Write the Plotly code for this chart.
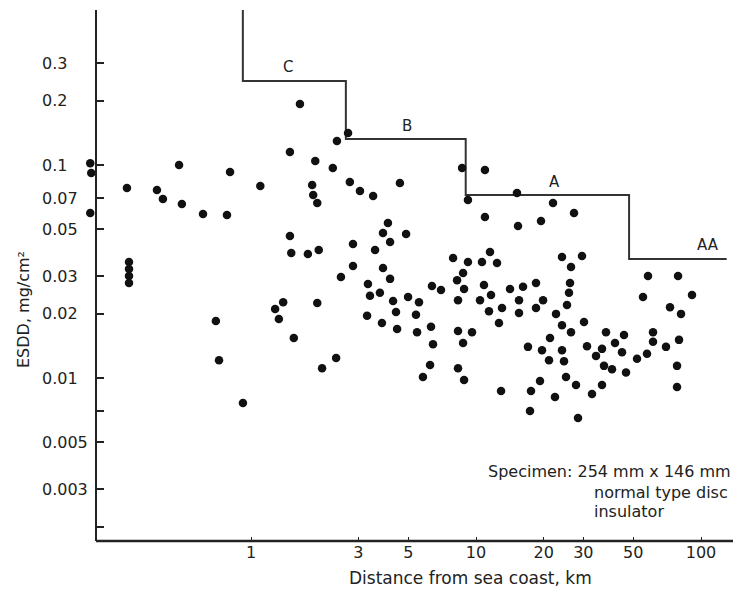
import numpy as np
import plotly.graph_objects as go

# measured ESDD vs distance from the sea coast
distance_km = [
    0.193, 0.195, 0.193, 0.281, 0.287, 0.287, 0.287, 0.287, 0.382, 0.406,
    0.479, 0.493, 0.612, 0.698, 0.721, 0.782, 0.807, 0.921, 1.10, 1.49,
    1.65, 1.49, 1.51, 1.39, 1.28, 1.33, 1.55, 1.79, 2.00, 1.97,
    1.93, 2.31, 2.41, 2.70, 1.87, 1.89, 1.97, 2.75, 3.05, 3.49,
    4.59, 4.06, 3.86, 4.15, 4.89, 2.84, 3.56, 2.84, 2.51, 3.86,
    4.15, 3.31, 3.38, 3.74, 4.28, 4.99, 5.58, 4.41, 3.28, 5.41,
    3.82, 4.46, 5.47, 6.31, 6.44, 2.39, 2.07, 6.25, 5.81, 8.67,
    10.96, 9.21, 10.96, 7.91, 9.21, 10.63, 11.54, 12.40, 8.76, 8.24,
    6.37, 6.99, 8.85, 10.85, 11.66, 10.42, 8.32, 14.16, 16.18, 18.48,
    15.53, 18.48, 15.53, 11.42, 13.05, 12.65, 8.32, 9.60, 8.76, 8.32,
    8.85, 15.21, 21.99, 15.37, 19.45, 27.27, 24.11, 29.59, 26.44, 58.14,
    79.05, 26.17, 25.90, 19.86, 25.38, 22.68, 24.11, 26.44, 30.20, 55.24,
    91.20, 72.81, 81.51, 37.82, 45.48, 61.19, 61.19, 79.86, 41.48, 44.56,
    17.02, 19.65, 21.33, 24.11, 21.11, 24.61, 31.14, 36.31, 34.15, 51.95,
    57.54, 69.89, 37.06, 40.22, 46.42, 78.24, 25.12, 27.83, 19.25, 17.56,
    12.92, 22.44, 32.78, 36.31, 78.24, 17.38, 28.40,
]
esdd = [
    0.102, 0.0917, 0.0595, 0.078, 0.035, 0.0325, 0.0301, 0.0279, 0.0763, 0.0692,
    0.100, 0.0656, 0.0589, 0.0185, 0.0121, 0.0582, 0.0927, 0.00763, 0.0797, 0.1151,
    0.1933, 0.0464, 0.0386, 0.0227, 0.0211, 0.0189, 0.0154, 0.0382, 0.0399, 0.0225,
    0.1044, 0.0968, 0.1296, 0.1413, 0.0806, 0.0723, 0.0663, 0.0832, 0.0755, 0.0715,
    0.0823, 0.0534, 0.0480, 0.0435, 0.0474, 0.0426, 0.0399, 0.0336, 0.0298, 0.0328,
    0.0292, 0.0276, 0.0243, 0.0251, 0.0230, 0.0240, 0.0227, 0.0204, 0.0196, 0.0198,
    0.0181, 0.0170, 0.0164, 0.0174, 0.0144, 0.0124, 0.0111, 0.0115, 0.0101, 0.0968,
    0.0947, 0.0685, 0.0570, 0.0366, 0.0350, 0.0350, 0.0390, 0.0347, 0.0311, 0.0288,
    0.0270, 0.0259, 0.0262, 0.0273, 0.0245, 0.0232, 0.0232, 0.0262, 0.0268, 0.0279,
    0.0232, 0.0213, 0.0202, 0.0206, 0.0213, 0.0181, 0.0166, 0.0164, 0.0146, 0.0111,
    0.00979, 0.0739, 0.0663, 0.0517, 0.0546, 0.0595, 0.0370, 0.0374, 0.0332, 0.0301,
    0.0301, 0.0279, 0.0251, 0.0232, 0.0220, 0.0200, 0.0177, 0.0164, 0.0183, 0.0240,
    0.0245, 0.0215, 0.0200, 0.0164, 0.0159, 0.0164, 0.0148, 0.0151, 0.0146, 0.0132,
    0.0140, 0.0135, 0.0154, 0.0135, 0.0121, 0.0120, 0.0141, 0.0137, 0.0127, 0.0123,
    0.0130, 0.0140, 0.0114, 0.0110, 0.0106, 0.0114, 0.0101, 0.00927, 0.00968, 0.00869,
    0.00869, 0.00814, 0.00841, 0.00927, 0.00907, 0.00700, 0.00649,
]

# pollution class boundaries (step line)
class_x = [0.92, 0.92, 2.64, 9.0, 47.9, 130]
class_y = [0.6, 0.248, 0.1325, 0.0723, 0.0362, 0.0362]
class_names = ['C', 'B', 'A', 'AA']
class_label_x = [1.46, 4.93, 22.4, 107.5]
class_label_y = [0.288, 0.152, 0.0832, 0.0421]

x_ticks = [1, 3, 5, 10, 20, 30, 50, 100]
y_ticks = [0.3, 0.2, 0.1, 0.07, 0.05, 0.03, 0.02, 0.01, 0.007, 0.005, 0.003, 0.002]
y_tick_text = ['0.3', '0.2', '0.1', '0.07', '0.05', '0.03', '0.02', '0.01', '', '0.005', '0.003', '']

FONT = 'DejaVu Sans'
INK = '#222222'
Y_AXIS_POS = 0.0123  # y axis sits a little inside the plot area

fig = go.Figure()

fig.add_trace(go.Scatter(
    x=class_x, y=class_y,
    mode='lines', line=dict(color='#333333', width=2, shape='hv'),
    showlegend=False, hoverinfo='skip',
))

fig.add_trace(go.Scatter(
    x=distance_km, y=esdd,
    mode='markers', marker=dict(color='#111111', size=8.5),
    cliponaxis=False, showlegend=False,
))

for name, lx, ly in zip(class_names, class_label_x, class_label_y):
    fig.add_annotation(x=np.log10(lx), y=np.log10(ly), text=name, showarrow=False,
                       font=dict(family=FONT, size=15, color=INK))

# left-align the y tick labels with figure spaces, as in the original
padded = [t.ljust(5, '\u2007') if t else '' for t in y_tick_text]

fig.update_layout(
    width=741, height=604,
    margin=dict(l=80, r=11, t=2, b=71),
    paper_bgcolor='white', plot_bgcolor='white',
    font=dict(family=FONT, size=16, color=INK),
    xaxis=dict(
        type='log', range=[-0.7244, 2.1644],
        tickvals=x_ticks, ticktext=[str(v) for v in x_ticks],
        ticks='inside', ticklen=4, tickcolor=INK,
        showline=False, showgrid=False, zeroline=False,
    ),
    yaxis=dict(
        type='log', range=[-2.7653, -0.2723],
        anchor='free', position=Y_AXIS_POS,
        tickvals=y_ticks, ticktext=padded,
        ticks='inside', ticklen=7, tickwidth=2, tickcolor=INK,
        ticklabelstandoff=4,
        showline=True, linecolor=INK, linewidth=2,
        showgrid=False, zeroline=False, automargin=False,
    ),
)

# x axis line starts at the y axis
fig.add_shape(type='line', xref='paper', yref='paper', x0=Y_AXIS_POS, x1=1, y0=0, y1=0,
              line=dict(color=INK, width=2.5))

fig.add_annotation(xref='paper', yref='paper', x=-0.1, y=0.435,
                   text='ESDD, mg/cm\u00b2', textangle=-90, showarrow=False,
                   font=dict(size=16), xanchor='center', yanchor='middle')
fig.add_annotation(xref='paper', yref='paper', x=0.589, y=-0.07,
                   text='Distance from sea coast, km', showarrow=False,
                   font=dict(size=17), xanchor='center', yanchor='middle')
fig.add_annotation(xref='paper', yref='paper', x=0.992, y=0.130,
                   text='Specimen: 254 mm x 146 mm', showarrow=False,
                   font=dict(size=16), xanchor='right', yanchor='middle')
fig.add_annotation(xref='paper', yref='paper', x=0.775, y=0.092,
                   text='normal type disc', showarrow=False,
                   font=dict(size=16), xanchor='left', yanchor='middle')
fig.add_annotation(xref='paper', yref='paper', x=0.775, y=0.055,
                   text='insulator', showarrow=False,
                   font=dict(size=16), xanchor='left', yanchor='middle')

fig.write_html('out.html')
